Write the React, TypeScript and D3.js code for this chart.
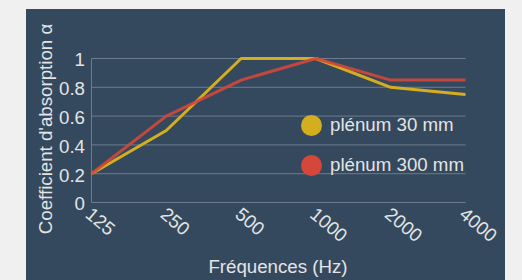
import React from "react";
import * as d3 from "d3";

const frequencies = ["125", "250", "500", "1000", "2000", "4000"];
const plenum30 = [0.2, 0.5, 1.0, 1.0, 0.8, 0.75];
const plenum300 = [0.2, 0.6, 0.85, 1.0, 0.85, 0.85];
const yTicks = [0, 0.2, 0.4, 0.6, 0.8, 1];
const seriesNames = ["plénum 30 mm", "plénum 300 mm"];
const seriesColors = ["#d4ae1e", "#d4473a"];

const width = 522;
const height = 280;
const font = "'Liberation Sans', Arial, sans-serif";
const fs = 18.7;

export default function App() {
  const x = d3.scalePoint<string>().domain(frequencies).range([91.5, 465.5]);
  const y = d3.scaleLinear().domain([0, 1]).range([202.5, 58.5]);

  const line = d3
    .line<number>()
    .x((_, i) => x(frequencies[i])!)
    .y((d) => y(d));

  const series = [plenum30, plenum300];

  return (
    <svg
      width={width}
      height={height}
      style={{ position: "absolute", left: 0, top: 0, background: "#f0f0f0" }}
      fontFamily={font}
    >
      <rect x={26} y={9} width={479} height={275} fill="#35495e" />

      {/* grid */}
      {yTicks.map((t) => (
        <line
          key={t}
          x1={x.range()[0]}
          x2={x.range()[1]}
          y1={y(t)}
          y2={y(t)}
          stroke="#6d7c8c"
          strokeWidth={1}
        />
      ))}
      <line x1={91.5} x2={91.5} y1={y(1)} y2={y(0)} stroke="#6d7c8c" />

      {/* y ticks */}
      {yTicks.map((t) => (
        <text
          key={t}
          x={85}
          y={y(t) + 3}
          fill="#e4e4e4"
          fontSize={fs}
          textAnchor="end"
          dominantBaseline="middle"
        >
          {d3.format("~g")(t)}
        </text>
      ))}

      {/* x ticks */}
      {frequencies.map((f) => (
        <text
          key={f}
          transform={`translate(${x(f)! - 4},${y(0) + 10}) rotate(40)`}
          fill="#e4e4e4"
          fontSize={fs}
          textAnchor="start"
          dominantBaseline="middle"
        >
          {f}
        </text>
      ))}

      {/* lines */}
      {series.map((s, i) => (
        <path
          key={i}
          d={line(s)!}
          fill="none"
          stroke={seriesColors[i]}
          strokeWidth={3}
          strokeOpacity={i === 1 ? 0.9 : 1}
          strokeLinejoin="round"
        />
      ))}

      {/* legend */}
      {seriesNames.map((n, i) => (
        <g key={n} transform={`translate(311.5,${125.5 + i * 40})`}>
          <circle r={10.5} fill={seriesColors[i]} />
          <text x={18.5} y={1} fill="#e4e4e4" fontSize={fs} dominantBaseline="middle">
            {n}
          </text>
        </g>
      ))}

      {/* axis titles */}
      <text
        transform={`translate(52,129) rotate(-90)`}
        fill="#e4e4e4"
        fontSize={fs}
        textAnchor="middle"
      >
        Coefficient d'absorption α
      </text>
      <text x={278} y={273} fill="#e4e4e4" fontSize={fs} textAnchor="middle">
        Fréquences (Hz)
      </text>
    </svg>
  );
}
